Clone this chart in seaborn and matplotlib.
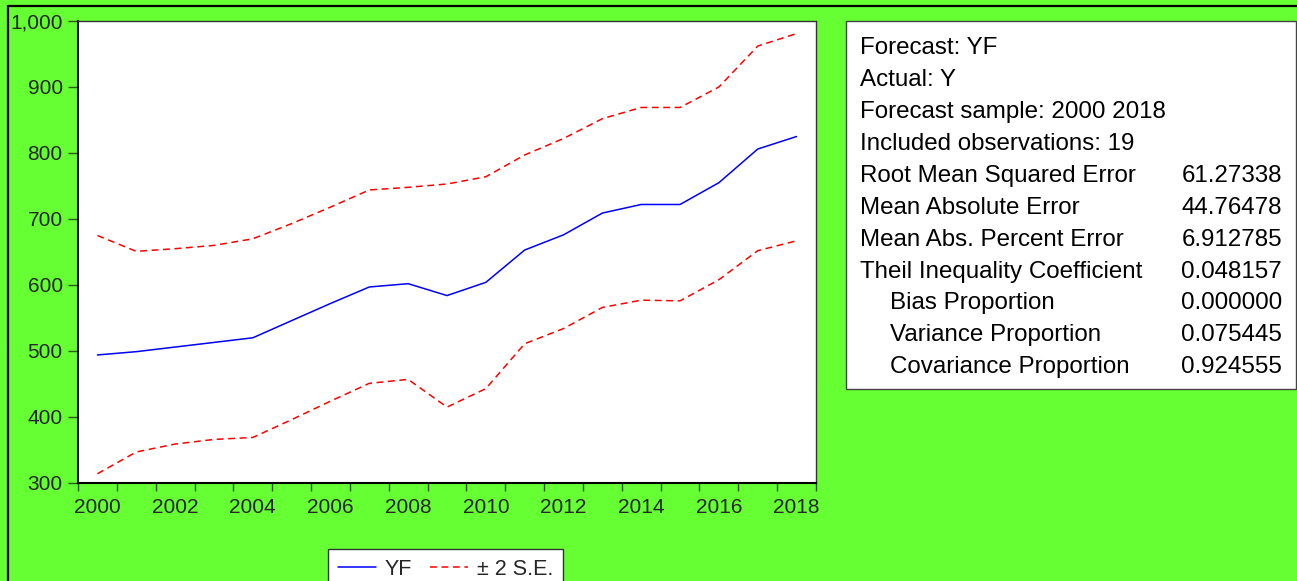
import numpy as np
import pandas as pd
import matplotlib
matplotlib.use("Agg")
import matplotlib.pyplot as plt
import matplotlib.ticker as mticker
from matplotlib.patches import Rectangle
from matplotlib.lines import Line2D
import seaborn as sns

# --- DATA ---
years = list(range(2000, 2019))
yf = [494, 499, 506, 513, 520, 546, 572, 597, 602, 584, 604, 653, 676, 709, 722, 722, 755, 806, 825]
upper = [675, 651, 655, 660, 670, 693, 718, 744, 748, 753, 764, 797, 822, 852, 869, 869, 900, 962, 981]
lower = [314, 347, 359, 366, 369, 396, 424, 451, 457, 415, 443, 511, 534, 566, 577, 576, 608, 652, 667]

x_labels = list(range(2000, 2019, 2))
y_ticks = list(range(300, 1001, 100))

stats_labels = ["Forecast: YF", "Actual: Y", "Forecast sample: 2000 2018",
                "Included observations: 19", "Root Mean Squared Error",
                "Mean Absolute Error", "Mean Abs. Percent Error",
                "Theil Inequality Coefficient", "Bias Proportion",
                "Variance Proportion", "Covariance Proportion"]
stats_values = ["", "", "", "", "61.27338", "44.76478", "6.912785",
                "0.048157", "0.000000", "0.075445", "0.924555"]
stats_indent = [False] * 8 + [True] * 3

# --- STYLE ---
GREEN = "#66FF33"
W, H = 1297, 581
sns.set_style("ticks")
plt.rcParams["font.family"] = ["Liberation Sans", "DejaVu Sans"]

df = pd.DataFrame({"year": years, "YF": yf, "upper": upper, "lower": lower})

fig = plt.figure(figsize=(W / 100, H / 100), dpi=100, facecolor=GREEN)
ax = fig.add_axes([78 / W, 1 - 483 / H, (816 - 78) / W, (483 - 21) / H])
ax.set_facecolor("white")

sns.lineplot(data=df, x="year", y="YF", color="#0000FF", lw=1.1, ax=ax)
sns.lineplot(data=df, x="year", y="upper", color="#FF0000", lw=1.1,
             linestyle=(0, (4.5, 3)), ax=ax)
sns.lineplot(data=df, x="year", y="lower", color="#FF0000", lw=1.1,
             linestyle=(0, (4.5, 3)), ax=ax)

ax.set_xlim(1999.5, 2018.5)
ax.set_ylim(300, 1000)
ax.set_xlabel("")
ax.set_ylabel("")

# year labels centred on the observation, ticks at year boundaries
ax.set_xticks(x_labels)
ax.set_xticklabels([str(y) for y in x_labels], fontsize=15)
ax.set_xticks(np.arange(1999.5, 2019.0, 1.0), minor=True)
ax.tick_params(axis="x", which="major", length=0, pad=11)
ax.tick_params(axis="x", which="minor", length=6, width=1, color="#2d5a1e", direction="out")

ax.set_yticks(y_ticks)
ax.yaxis.set_major_formatter(mticker.StrMethodFormatter("{x:,.0f}"))
ax.tick_params(axis="y", which="major", length=7, width=1, color="#2d5a1e",
               labelsize=15, pad=4)

for side in ["left", "bottom"]:
    ax.spines[side].set_linewidth(1.5)
    ax.spines[side].set_color("black")
for side in ["top", "right"]:
    ax.spines[side].set_linewidth(1.0)
    ax.spines[side].set_color("#333333")

# legend below the plot
handles = [Line2D([], [], color="#0000FF", lw=1.1),
           Line2D([], [], color="#FF0000", lw=1.1, linestyle=(0, (4.5, 3)))]
leg = fig.legend(handles, ["YF", "\u00b1 2 S.E."], loc="upper left",
                 bbox_to_anchor=(328 / W, 1 - 549 / H), bbox_transform=fig.transFigure,
                 ncol=2, fontsize=15.5, frameon=True, fancybox=False, shadow=False,
                 borderaxespad=0, borderpad=0.45, handlelength=1.8,
                 handletextpad=0.4, columnspacing=0.8)
leg.get_frame().set_edgecolor("#333333")
leg.get_frame().set_linewidth(1.0)
leg.get_frame().set_alpha(1)

# statistics box on the right
fig.patches.append(Rectangle((846 / W, 1 - 389 / H), (1296 - 846) / W, (389 - 21) / H,
                             transform=fig.transFigure, facecolor="white",
                             edgecolor="#444444", lw=1.0, zorder=1))
for i, (lab, val, ind) in enumerate(zip(stats_labels, stats_values, stats_indent)):
    yb = 1 - (54.3 + 31.9 * i) / H
    xl = (890 if ind else 860.5) / W
    fig.text(xl, yb, lab, fontsize=17.4, va="baseline", ha="left", color="black")
    if val:
        fig.text(1282 / W, yb, val, fontsize=17.4, va="baseline", ha="right", color="black")

# outer frame (top and left edges visible)
fig.lines.append(Line2D([7.5 / W, 1], [1 - 5.5 / H, 1 - 5.5 / H], transform=fig.transFigure,
                        color="black", lw=1.6))
fig.lines.append(Line2D([7.5 / W, 7.5 / W], [0, 1 - 5.5 / H], transform=fig.transFigure,
                        color="black", lw=1.6))

fig.savefig("out.png", dpi=100, facecolor=fig.get_facecolor())
